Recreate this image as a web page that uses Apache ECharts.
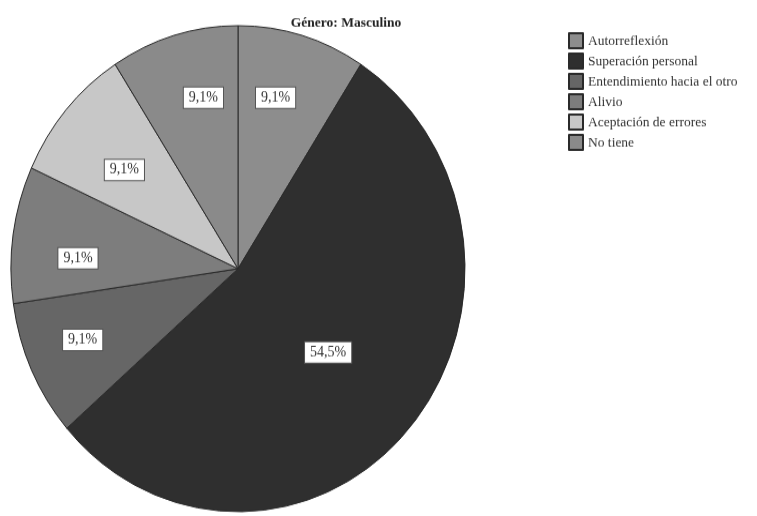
<!DOCTYPE html>
<html>
<head>
<meta charset="utf-8">
<script src="https://cdn.jsdelivr.net/npm/echarts@6/dist/echarts.min.js"></script>
<style>
  html, body { margin: 0; padding: 0; background: #fff; overflow: hidden; }
  /* the chart is drawn a little taller than wide, as in the printed report */
  #wrap { width: 757px; height: 516px; overflow: hidden; }
  #chart { width: 757px; height: 482px; transform: scaleY(1.0705); transform-origin: 0 0; }
</style>
</head>
<body>
<div id="wrap"><div id="chart"></div></div>
<script>
// Género: Masculino — distribución de respuestas (%)
const categories = [
  'Autorreflexión',
  'Superación personal',
  'Entendimiento hacia el otro',
  'Alivio',
  'Aceptación de errores',
  'No tiene'
];
const percentages = [9.1, 54.5, 9.1, 9.1, 9.1, 9.1];
const sliceColors = ['#8d8d8d', '#2f2f2f', '#666666', '#7d7d7d', '#c7c7c7', '#8a8a8a'];
const chartTitle = 'Género: Masculino';

// small nudges so the value boxes sit where the report placed them
const labelNudge = [[-10, 2], [2, 2], [-2, -4], [7, 14], [14, 18], [13, 2]];

const fmt = p => p.value.toFixed(1).replace('.', ',') + '%';

const labelBox = {
  fontFamily: '"Liberation Serif", "DejaVu Serif", serif',
  fontSize: 14,
  color: '#333',
  backgroundColor: '#fff',
  borderColor: '#555',
  borderWidth: 1,
  padding: [3, 5, 2, 5],
  formatter: fmt
};

const CENTER = [238, 251];
const R = 227;

const pieData = categories.map((name, i) => ({
  name,
  value: percentages[i],
  itemStyle: { color: sliceColors[i] },
  // the large slice keeps its label on the slice; the small ones are labelled by the outer ring
  label: { show: percentages[i] > 50 }
}));

const labelRingData = categories.map((name, i) => ({
  name,
  value: percentages[i],
  label: { show: percentages[i] < 50 }
}));

const nudge = params => ({
  dx: labelNudge[params.dataIndex][0],
  dy: labelNudge[params.dataIndex][1]
});

const chart = echarts.init(document.getElementById('chart'), null, { renderer: 'canvas' });
chart.setOption({
  backgroundColor: '#fff',
  animation: false,
  title: {
    text: chartTitle,
    left: 341,
    top: 10,
    textAlign: 'center',
    textStyle: {
      fontFamily: '"Liberation Serif", "DejaVu Serif", serif',
      fontSize: 13.5,
      fontWeight: 'bold',
      color: '#222'
    }
  },
  legend: {
    orient: 'vertical',
    left: 568,
    top: 30,
    padding: 0,
    itemWidth: 14,
    itemHeight: 14,
    itemGap: 3,
    icon: 'rect',
    data: categories,
    textStyle: {
      fontFamily: '"Liberation Serif", "DejaVu Serif", serif',
      fontSize: 13.5,
      lineHeight: 14,
      color: '#333',
      padding: [0, 0, 0, 0]
    }
  },
  series: [
    {
      type: 'pie',
      center: CENTER,
      radius: [0, R],
      startAngle: 90,
      clockwise: true,
      avoidLabelOverlap: false,
      itemStyle: { borderColor: '#2a2a2a', borderWidth: 1 },
      label: Object.assign({ position: 'inside' }, labelBox),
      labelLine: { show: false },
      labelLayout: nudge,
      emphasis: { disabled: true },
      data: pieData
    },
    {
      type: 'pie',
      center: CENTER,
      radius: [0, R * 1.46],
      startAngle: 90,
      clockwise: true,
      silent: true,
      avoidLabelOverlap: false,
      itemStyle: { color: 'rgba(0,0,0,0)', borderWidth: 0 },
      label: Object.assign({ position: 'inside' }, labelBox),
      labelLine: { show: false },
      labelLayout: nudge,
      emphasis: { disabled: true },
      data: labelRingData,
      z: 3
    }
  ]
});
</script>
</body>
</html>
